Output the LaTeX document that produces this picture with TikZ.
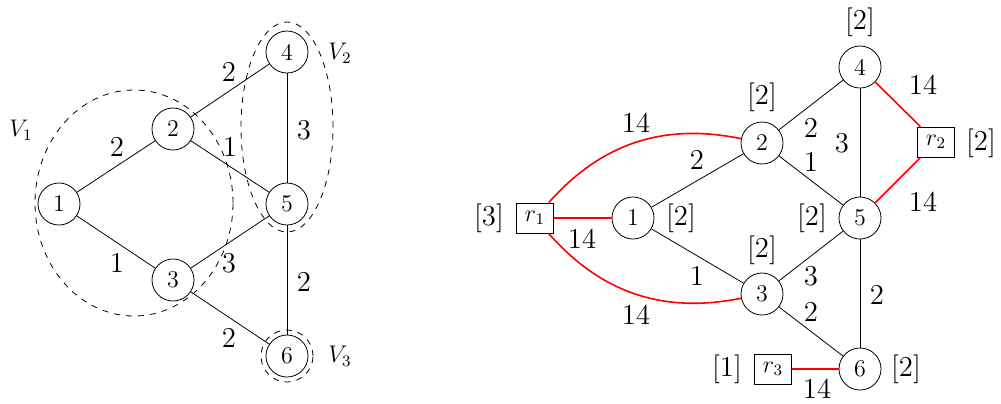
\documentclass[tikz,border=0pt]{standalone}
\begin{document}
\begin{tikzpicture}[x=0.5pt,y=-0.5pt,
  vertex/.style={circle,draw,minimum size=21pt,inner sep=0pt,font=\large},
  root/.style={rectangle,draw,minimum width=18.5pt,minimum height=15pt,inner sep=0pt,font=\large},
  weight/.style={font=\Large,inner sep=0pt},
  demand/.style={font=\Large,inner sep=0pt},
  grouplabel/.style={inner sep=0pt,font=\large},
  link/.style={draw=red,thick},
  region/.style={dashed}]
\useasboundingbox (0,0) rectangle (1001,403);

% ---- left: graph with its vertex groups ----
\node[vertex] (a1) at (59,204) {1};
\node[vertex] (a2) at (173,129) {2};
\node[vertex] (a3) at (173,280) {3};
\node[vertex] (a4) at (287,52) {4};
\node[vertex] (a5) at (287,204) {5};
\node[vertex] (a6) at (287,356) {6};

\draw (a1) -- (a2);
\draw (a1) -- (a3);
\draw (a2) -- (a4);
\draw (a2) -- (a5);
\draw (a3) -- (a5);
\draw (a3) -- (a6);
\draw (a4) -- (a5);
\draw (a5) -- (a6);

\coordinate (g1) at (134,203);
\coordinate (g2) at (287,127);
\draw[region] (g1) ellipse [x radius=49.5pt, y radius=56.5pt];
\draw[region] (g2) ellipse [x radius=23pt, y radius=52.5pt];
\draw[region] (a6.center) circle [radius=13pt];

\node[grouplabel] (v1) at (21,130) {$V_1$};
\node[grouplabel] (v2) at (340,53) {$V_2$};
\node[grouplabel] (v3) at (340,356) {$V_3$};

\node[weight] (w12) at (117,147) {2};
\node[weight] (w13) at (117,263) {1};
\node[weight] (w24) at (229,72) {2};
\node[weight] (w25) at (230,147) {1};
\node[weight] (w45) at (304,130) {3};
\node[weight] (w35) at (229,263) {3};
\node[weight] (w56) at (304,282) {2};
\node[weight] (w36) at (229,338) {2};

% ---- right: graph with root nodes ----
\node[vertex] (b1) at (633,218) {1};
\node[vertex] (b2) at (762,143) {2};
\node[vertex] (b3) at (762,294) {3};
\node[vertex] (b4) at (860,67) {4};
\node[vertex] (b5) at (860,218) {5};
\node[vertex] (b6) at (860,369) {6};
\node[root] (r1) at (535,218) {$r_1$};
\node[root] (r2) at (936,142) {$r_2$};
\node[root] (r3) at (773,369) {$r_3$};

\draw (b1) -- (b2);
\draw (b1) -- (b3);
\draw (b2) -- (b4);
\draw (b2) -- (b5);
\draw (b3) -- (b5);
\draw (b3) -- (b6);
\draw (b4) -- (b5);
\draw (b5) -- (b6);

\draw[link] (r1) -- (b1);
\draw[link] (r1) to[bend left=30] (b2);
\draw[link] (r1) to[bend right=30] (b3);
\draw[link] (b4) -- (r2);
\draw[link] (r2) -- (b5);
\draw[link] (r3) -- (b6);

\node[weight] (x12) at (697,160) {2};
\node[weight] (x13) at (697,276) {1};
\node[weight] (x24) at (811,128) {2};
\node[weight] (x25) at (811,162) {1};
\node[weight] (x45) at (842,143) {3};
\node[weight] (x35) at (811,276) {3};
\node[weight] (x36) at (811,312) {2};
\node[weight] (x56) at (877,295) {2};
\node[weight] (y12) at (636,123) {14};
\node[weight] (y11) at (582,239) {14};
\node[weight] (y13) at (636,315) {14};
\node[weight] (y24) at (923,85) {14};
\node[weight] (y25) at (923,202) {14};
\node[weight] (y36) at (817,389) {14};

\node[demand] (dr1) at (489,218) {[3]};
\node[demand] (dr2) at (981,143) {[2]};
\node[demand] (dr3) at (727,369) {[1]};
\node[demand] (d1) at (681,218) {[2]};
\node[demand] (d2) at (762,97) {[2]};
\node[demand] (d3) at (762,250) {[2]};
\node[demand] (d4) at (860,22) {[2]};
\node[demand] (d5) at (812,218) {[2]};
\node[demand] (d6) at (906,369) {[2]};
\end{tikzpicture}
\end{document}
